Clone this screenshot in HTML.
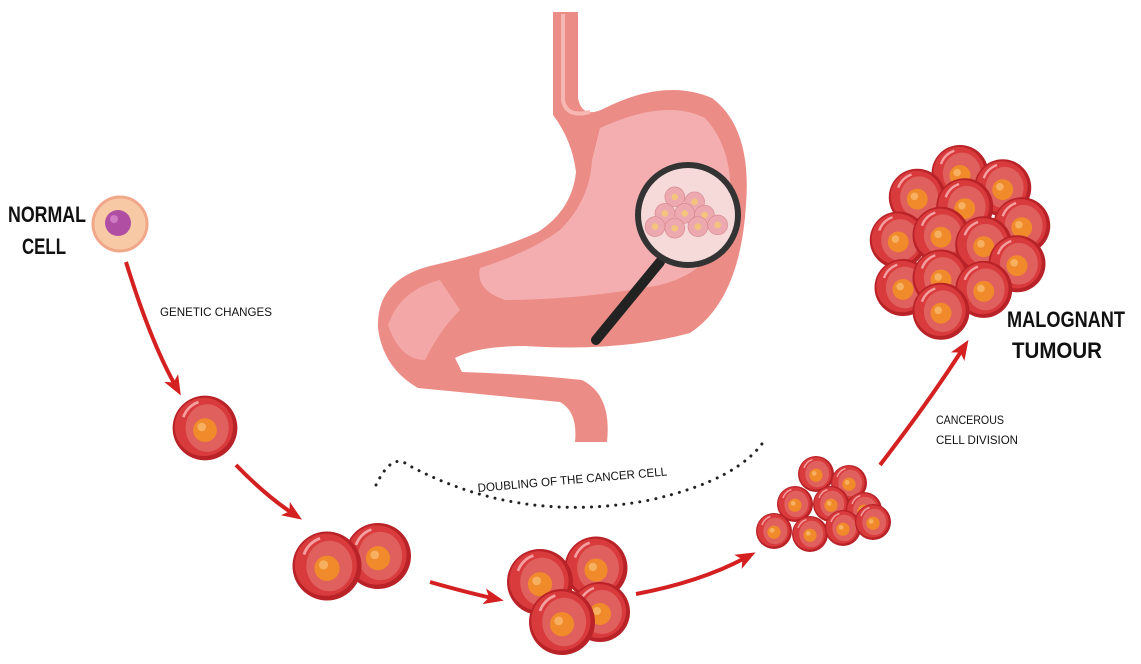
<!DOCTYPE html>
<html><head><meta charset="utf-8"><style>
html,body{margin:0;padding:0;background:#fff;}
svg{display:block;}
text{font-family:"Liberation Sans",sans-serif;fill:#111;}
</style></head><body>
<svg width="1141" height="664" viewBox="0 0 1141 664" xmlns="http://www.w3.org/2000/svg">
<defs>
<g id="cell">
<circle r="30" fill="#b92227"/>
<circle r="27" cx="-1" cy="-1" fill="#d93b3d"/>
<ellipse rx="20" ry="22" cx="2" cy="0" fill="#e0605e"/>
<path d="M-20,-10 A22,22 0 0 1 -6,-24" stroke="#f4a0a0" stroke-width="2.5" fill="none"/>
<circle r="11" cx="0" cy="2" fill="#f08a2a"/>
<circle r="4" cx="-3" cy="-1" fill="#f7b060"/>
</g>
<g id="scell">
<circle r="30" fill="#ecaab0" stroke="#d88890" stroke-width="2"/>
<circle r="10" fill="#f4c47c"/>
</g>
<marker id="ah" markerWidth="20" markerHeight="20" refX="8" refY="10" orient="auto" markerUnits="userSpaceOnUse" viewBox="0 0 20 20">
<path d="M0,2 L20,10 L0,18 L5,10 Z" fill="#d42020"/>
</marker>
</defs>

<!-- stomach -->
<path d="M553,12 L578,12 L578,98 Q582,120 605,108 Q665,78 712,98 Q752,128 746,205 Q740,300 690,333 Q620,352 525,346 Q478,346 455,358 L462,372 Q525,374 582,380 Q612,395 607,442 L575,442 Q578,412 560,402 Q480,394 418,388 Q383,368 378,328 Q376,280 430,266 Q500,250 538,232 Q572,210 576,172 Q572,140 553,115 Z" fill="#ec8c86"/>
<path d="M600,128 Q665,98 705,118 Q735,150 730,210 Q720,270 660,285 Q580,300 505,300 Q475,290 480,268 Q530,252 560,230 Q590,200 592,160 Z" fill="#f4aeb0"/>
<path d="M388,325 Q400,290 440,280 L460,310 Q440,330 425,360 Q400,360 388,325 Z" fill="#f3a7a6"/>
<path d="M563,14 L563,100 Q566,118 590,112" stroke="#f6b6b2" stroke-width="4" fill="none"/>

<!-- magnifier -->
<line x1="660" y1="262" x2="596" y2="340" stroke="#222" stroke-width="10" stroke-linecap="round"/>
<circle cx="688" cy="215" r="50" fill="#f6dada" stroke="#333" stroke-width="6"/>
<g transform="translate(688,220) scale(0.33)">
<use href="#scell" x="-40" y="-70"/><use href="#scell" x="20" y="-55"/>
<use href="#scell" x="-70" y="-20"/><use href="#scell" x="-10" y="-20"/><use href="#scell" x="50" y="-15"/>
<use href="#scell" x="-100" y="20"/><use href="#scell" x="-40" y="25"/><use href="#scell" x="30" y="20"/><use href="#scell" x="90" y="15"/>
</g>

<!-- normal cell -->
<circle cx="120" cy="224" r="27" fill="#f7c9a4" stroke="#f1a88a" stroke-width="3"/>
<circle cx="118" cy="223" r="13" fill="#b04ea3"/>
<circle cx="114" cy="219" r="4" fill="#d07cc4"/>

<!-- cells -->
<g transform="translate(205,428) scale(1.08)"><use href="#cell"/></g>
<g transform="translate(378,556) scale(1.1)"><use href="#cell"/></g>
<g transform="translate(327,566) scale(1.15)"><use href="#cell"/></g>
<g transform="translate(596,568) scale(1.05)"><use href="#cell"/></g>
<g transform="translate(600,612) scale(1.0)"><use href="#cell"/></g>
<g transform="translate(540,582) scale(1.1)"><use href="#cell"/></g>
<g transform="translate(562,622) scale(1.1)"><use href="#cell"/></g>

<!-- small cluster -->
<g transform="scale(0.6)">
<use href="#cell" x="1360" y="790"/><use href="#cell" x="1415" y="805"/>
<use href="#cell" x="1325" y="840"/><use href="#cell" x="1385" y="840"/><use href="#cell" x="1440" y="850"/>
<use href="#cell" x="1290" y="885"/><use href="#cell" x="1350" y="890"/><use href="#cell" x="1405" y="880"/><use href="#cell" x="1455" y="870"/>
</g>

<!-- big cluster -->
<g transform="translate(960,240) scale(0.95) translate(-960,-240)">
<use href="#cell" x="960" y="170"/><use href="#cell" x="1005" y="185"/><use href="#cell" x="915" y="195"/>
<use href="#cell" x="965" y="205"/><use href="#cell" x="1025" y="225"/><use href="#cell" x="895" y="240"/>
<use href="#cell" x="940" y="235"/><use href="#cell" x="985" y="245"/><use href="#cell" x="1020" y="265"/>
<use href="#cell" x="900" y="290"/><use href="#cell" x="940" y="280"/><use href="#cell" x="985" y="292"/>
<use href="#cell" x="940" y="315"/>
</g>

<!-- arrows -->
<g stroke="#d42020" fill="none" stroke-width="4" marker-end="url(#ah)">
<path d="M126,262 Q150,340 175,385"/>
<path d="M236,465 Q265,495 292,513"/>
<path d="M430,582 Q465,592 492,598"/>
<path d="M636,594 Q700,582 745,558"/>
<path d="M880,465 Q930,400 962,350"/>
</g>

<!-- dotted arc -->
<path d="M376,485 Q392,452 408,465 Q520,525 650,500 Q740,480 766,438" stroke="#222" stroke-width="3" stroke-dasharray="0.1 8" stroke-linecap="round" fill="none"/>

<!-- labels -->
<text x="8" y="222" font-size="22" font-weight="bold" textLength="78" lengthAdjust="spacingAndGlyphs">NORMAL</text>
<text x="22" y="254" font-size="22" font-weight="bold" textLength="44" lengthAdjust="spacingAndGlyphs">CELL</text>
<text x="160" y="316" font-size="12" textLength="112" lengthAdjust="spacingAndGlyphs">GENETIC CHANGES</text>
<text x="478" y="492" font-size="12" transform="rotate(-5 478 492)" textLength="190" lengthAdjust="spacingAndGlyphs">DOUBLING OF THE CANCER CELL</text>
<text x="936" y="424" font-size="12" textLength="68" lengthAdjust="spacingAndGlyphs">CANCEROUS</text>
<text x="936" y="444" font-size="12" textLength="82" lengthAdjust="spacingAndGlyphs">CELL DIVISION</text>
<text x="1007" y="327" font-size="22" font-weight="bold" textLength="118" lengthAdjust="spacingAndGlyphs">MALOGNANT</text>
<text x="1012" y="358" font-size="22" font-weight="bold" textLength="90" lengthAdjust="spacingAndGlyphs">TUMOUR</text>
</svg>
</body></html>
